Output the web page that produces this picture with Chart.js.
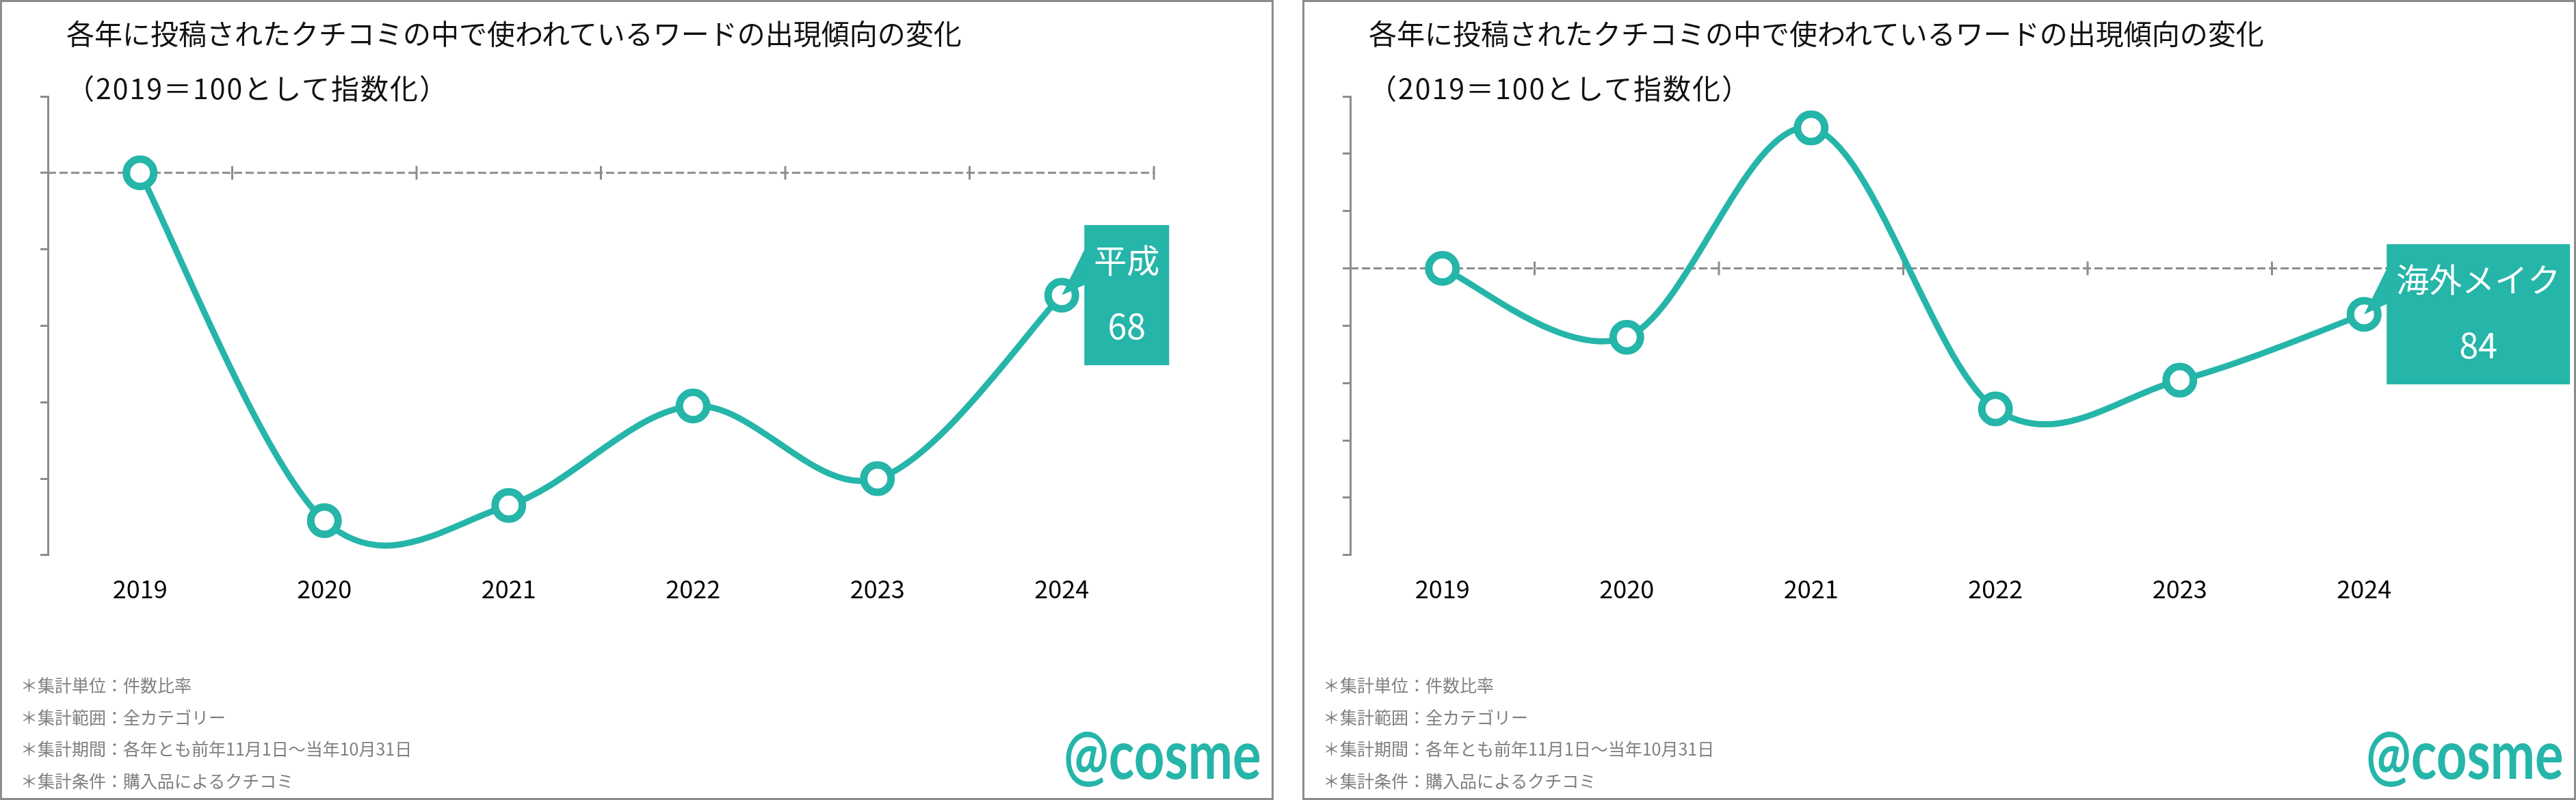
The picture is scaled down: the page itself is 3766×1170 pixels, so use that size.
<!DOCTYPE html>
<html lang="ja">
<head>
<meta charset="utf-8">
<script src="https://cdn.jsdelivr.net/npm/chart.js@4.4.1/dist/chart.umd.min.js"></script>
<style>
  html, body { margin: 0; padding: 0; background: #fff; }
  body { width: 3766px; height: 1170px; position: relative; overflow: hidden; font-family: "Noto Sans CJK JP", sans-serif; }
  .panel { position: absolute; top: 0; width: 1862px; height: 1170px; background: #fff; }
  .panel canvas { position: absolute; left: 0; top: 0; }
  .frame { position: absolute; left: 0; top: 0; right: 0; bottom: 0; border: 3px solid #8c8c8c; box-sizing: border-box; pointer-events: none; }
  .title { position: absolute; left: 97px; font-size: 41px; line-height: 41px; color: #111; white-space: nowrap; }
  .sub { letter-spacing: 2px; }
  .notes { position: absolute; left: 30px; top: 978px; font-size: 25px; line-height: 46.7px; color: #7f7f7f; white-space: nowrap; }
  .logo { position: absolute; left: 1555px; top: 1050px; font-family: Lato, sans-serif; font-weight: 700; font-size: 100px; line-height: 100px; color: #25b5a9; transform: scaleX(0.78); transform-origin: left top; white-space: nowrap; }
</style>
</head>
<body>

<div class="panel" style="left:0">
  <canvas id="chart-heisei" width="1862" height="1170"></canvas>
  <div class="title" style="top:27px">各年に投稿されたクチコミの中で使われているワードの出現傾向の変化</div>
  <div class="title sub" style="top:107px">（2019＝100として指数化）</div>
  <div class="notes">＊集計単位：件数比率<br>＊集計範囲：全カテゴリー<br>＊集計期間：各年とも前年11月1日～当年10月31日<br>＊集計条件：購入品によるクチコミ</div>
  <div class="logo">@cosme</div>
  <div class="frame"></div>
</div>

<div class="panel" style="left:1904px">
  <canvas id="chart-kaigai" width="1862" height="1170"></canvas>
  <div class="title" style="top:27px">各年に投稿されたクチコミの中で使われているワードの出現傾向の変化</div>
  <div class="title sub" style="top:107px">（2019＝100として指数化）</div>
  <div class="notes">＊集計単位：件数比率<br>＊集計範囲：全カテゴリー<br>＊集計期間：各年とも前年11月1日～当年10月31日<br>＊集計条件：購入品によるクチコミ</div>
  <div class="logo">@cosme</div>
  <div class="frame"></div>
</div>

<script>
// data
var years = ["2019", "2020", "2021", "2022", "2023", "2024"];
var heiseiLabel = "平成";
var heiseiValues = [100, 9, 13, 39, 20, 68];
var kaigaiLabel = "海外メイク";
var kaigaiValues = [100, 76, 149, 51, 61, 84];
var baseValue = 100;
var heiseiMax = 120;
var kaigaiMax = 160;
var yStep = 20;

var TEAL = "#25b5a9";
var GRAY = "#8c8c8c";
var FONT = '"Noto Sans CJK JP", sans-serif';

Chart.defaults.font.family = FONT;

// excel style smoothing: control points at 1/6 of neighbour span
var smoothPlugin = {
    id: "excelSmooth",
    beforeDatasetDraw: function (chart, args) {
        var line = args.meta.dataset;
        if (line.updateControlPoints) line.updateControlPoints(chart.chartArea, "x");
        var pts = args.meta.data;
        for (var i = 0; i < pts.length; i++) {
            var p = pts[i];
            var a = pts[i - 1] || p;
            var b = pts[i + 1] || p;
            var dx = (b.x - a.x) / 6, dy = (b.y - a.y) / 6;
            p.cp1x = p.x - dx; p.cp1y = p.y - dy;
            p.cp2x = p.x + dx; p.cp2y = p.y + dy;
        }
        line._path = undefined;
    }
};

// dashed 100 line with tick marks across it
var baselinePlugin = {
    id: "baseline",
    beforeDatasetsDraw: function (chart, args, opts) {
        var x = chart.scales.x, y = chart.scales.y, ctx = chart.ctx;
        var area = chart.chartArea;
        var yy = y.getPixelForValue(opts.value);
        var step = x.getPixelForValue(1) - x.getPixelForValue(0);
        var first = x.getPixelForValue(0) - step / 2;
        ctx.save();
        ctx.strokeStyle = GRAY;
        ctx.lineWidth = 3;
        ctx.setLineDash([12, 5]);
        ctx.beginPath();
        ctx.moveTo(area.left, yy);
        ctx.lineTo(area.right, yy);
        ctx.stroke();
        ctx.setLineDash([]);
        ctx.beginPath();
        for (var i = 1; i <= chart.data.labels.length; i++) {
            var xx = first + i * step;
            ctx.moveTo(xx, yy - 10);
            ctx.lineTo(xx, yy + 10);
        }
        ctx.stroke();
        ctx.restore();
    }
};

// callout box on the last point
var calloutPlugin = {
    id: "callout",
    afterDatasetsDraw: function (chart, args, opts) {
        var meta = chart.getDatasetMeta(0);
        var n = meta.data.length - 1;
        var pt = meta.data[n];
        var value = chart.data.datasets[0].data[n];
        var ctx = chart.ctx;
        ctx.save();
        ctx.font = "48px " + FONT;
        var w = ctx.measureText(opts.label).width + 28;
        var h = 205;
        var left = pt.x + 33, top = pt.y - h / 2;
        ctx.fillStyle = TEAL;
        ctx.beginPath();
        ctx.moveTo(left + 1, top + 34);
        ctx.lineTo(pt.x, pt.y);
        ctx.lineTo(left + 1, top + 87);
        ctx.closePath();
        ctx.fill();
        ctx.fillRect(left, top, w, h);
        ctx.fillStyle = "#fff";
        ctx.textAlign = "center";
        ctx.textBaseline = "middle";
        ctx.fillText(opts.label, left + w / 2, top + 52);
        ctx.font = "50px " + FONT;
        ctx.fillText(String(value), left + w / 2, top + 148);
        ctx.restore();
    }
};

function makeChart(id, values, max, label) {
    var ctx = document.getElementById(id).getContext("2d");
    return new Chart(ctx, {
        type: "line",
        data: {
            labels: years,
            datasets: [{
                data: values,
                borderColor: TEAL,
                borderWidth: 9,
                tension: 0.4,
                pointRadius: 20,
                pointHoverRadius: 20,
                pointBorderWidth: 11,
                pointBackgroundColor: "#fff",
                pointBorderColor: TEAL,
                clip: false
            }]
        },
        options: {
            responsive: false,
            animation: false,
            events: [],
            layout: { padding: { left: 59, right: 175, top: 141, bottom: 267 } },
            plugins: {
                legend: { display: false },
                tooltip: { enabled: false },
                baseline: { value: baseValue },
                callout: { label: label }
            },
            scales: {
                x: {
                    offset: true,
                    grid: { display: false },
                    border: { display: false },
                    ticks: { color: "#000", font: { size: 36 }, padding: 20, maxRotation: 0 }
                },
                y: {
                    min: 0,
                    max: max,
                    ticks: { display: false, stepSize: yStep },
                    grid: { drawOnChartArea: false, drawTicks: true, tickLength: 11, color: GRAY, lineWidth: 3 },
                    border: { display: true, color: GRAY, width: 3 }
                }
            }
        },
        plugins: [smoothPlugin, baselinePlugin, calloutPlugin]
    });
}

makeChart("chart-heisei", heiseiValues, heiseiMax, heiseiLabel);
makeChart("chart-kaigai", kaigaiValues, kaigaiMax, kaigaiLabel);
</script>
</body>
</html>
